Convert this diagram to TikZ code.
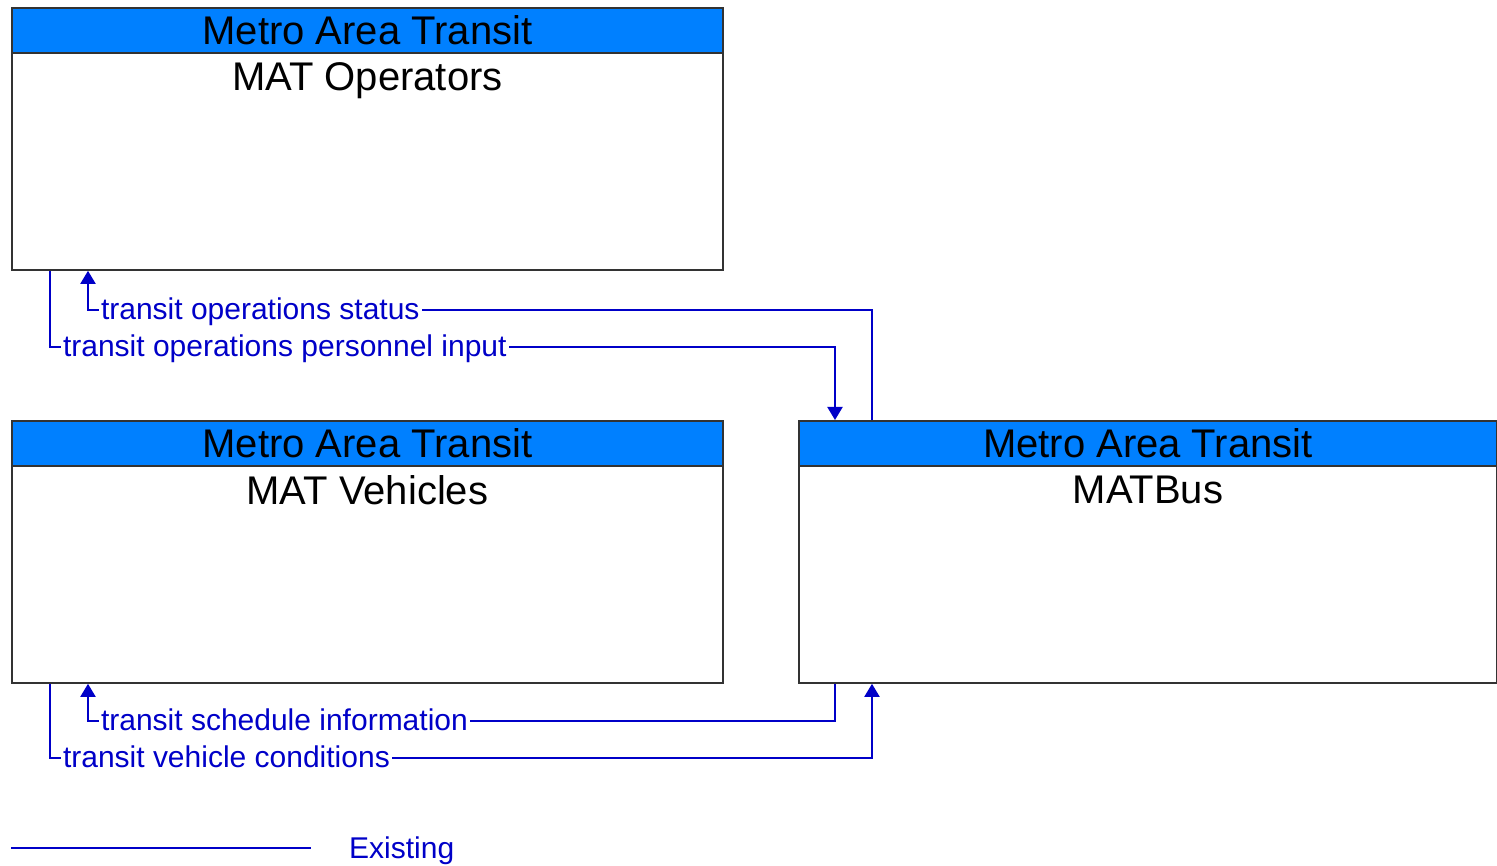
\documentclass[tikz,border=0pt]{standalone}
\usepackage{fontspec}
\setmainfont{Liberation Sans}
\usetikzlibrary{arrows.meta,positioning,calc}
\definecolor{hdrblue}{HTML}{0080FF}
\definecolor{flowblue}{HTML}{0000C8}
\definecolor{edge}{HTML}{333333}

\begin{document}
\begin{tikzpicture}[x=1pt, y=-1pt,
      sysbox/.style={draw=edge, line width=1.8pt, fill=white, anchor=north west, minimum height=262pt, inner sep=0pt},
      hdr/.style={draw=edge, line width=1.8pt, fill=hdrblue, anchor=north west, minimum height=45pt, inner sep=0pt, font=\fontsize{40}{48}\selectfont},
      sysname/.style={anchor=north, inner sep=0pt, yshift=-9pt, font=\fontsize{40}{48}\selectfont},
      flow/.style={draw=flowblue, line width=2pt},
      tipend/.style={-{Triangle[width=15pt,length=13pt]}},
      tipstart/.style={{Triangle[width=15pt,length=13pt]}-},
      lbl/.style={anchor=base west, xshift=10pt, yshift=-10pt, fill=white, inner sep=2pt, text=flowblue, font=\fontsize{30}{36}\selectfont},
      legtext/.style={anchor=base west, inner sep=0pt, text=flowblue, font=\fontsize{30}{36}\selectfont}]
    \useasboundingbox (0,0) rectangle (1497,866);
    \node[sysbox, minimum width=711pt] (ops) at (11,7) {};
    \node[hdr, minimum width=711pt] (opsh) at (ops.north west) {Metro Area Transit};
    \node[sysname] (opsn) at (opsh.south) {MAT Operators};
    \node[sysbox, minimum width=711pt] (veh) at (11,420) {};
    \node[hdr, minimum width=711pt] (vehh) at (veh.north west) {Metro Area Transit};
    \node[sysname] (vehn) at (vehh.south) {MAT Vehicles};
    \node[sysbox, minimum width=698pt] (bus) at (798,420) {};
    \node[hdr, minimum width=698pt] (bush) at (bus.north west) {Metro Area Transit};
    \node[sysname] (busn) at (bush.south) {MATBus};
    \draw[flow, tipstart] ([xshift=77pt]ops.south west) -- ++(0,39) node[lbl] {transit operations status} -| ([xshift=74pt]bus.north west);
    \draw[flow, tipend] ([xshift=39pt]ops.south west) -- ++(0,76) node[lbl] {transit operations personnel input} -| ([xshift=37pt]bus.north west);
    \draw[flow, tipstart] ([xshift=77pt]veh.south west) -- ++(0,37) node[lbl] {transit schedule information} -| ([xshift=37pt]bus.south west);
    \draw[flow, tipend] ([xshift=39pt]veh.south west) -- ++(0,74) node[lbl] {transit vehicle conditions} -| ([xshift=74pt]bus.south west);
    \coordinate (lega) at (11,848);
    \coordinate (legb) at (311,848);
    \draw[flow] (lega) -- (legb);
    \node[legtext] (legt) at (349,858) {Existing};
  \end{tikzpicture}
\end{document}
